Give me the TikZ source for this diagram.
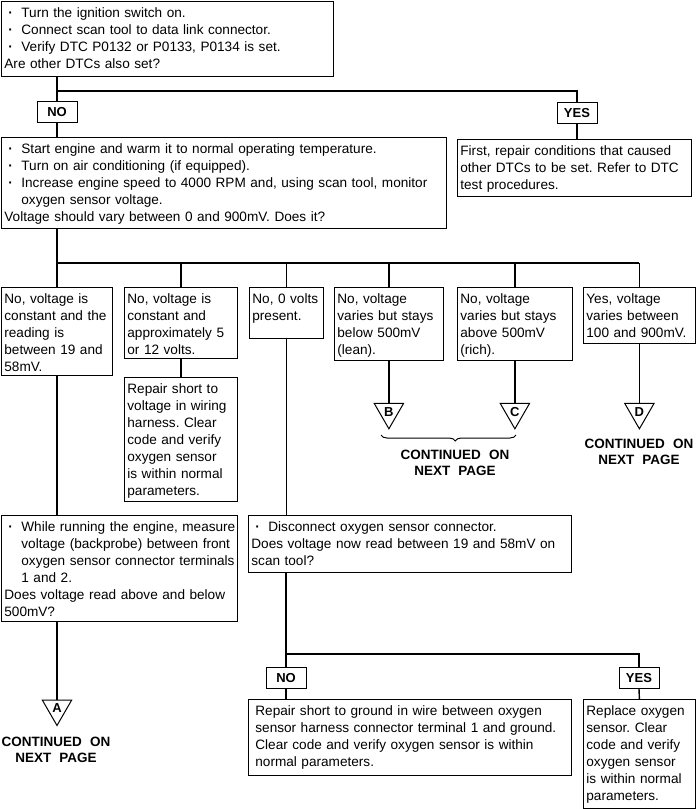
\documentclass[tikz,border=0pt]{standalone}
\usepackage{fontspec}
\setmainfont{Liberation Sans}
\usetikzlibrary{positioning, shapes.geometric, decorations.pathreplacing}

% Bullet and hanging indent for list lines
\newcommand{\bul}{\makebox[17pt][l]{\hspace{4pt}\textbf{·}}}
\newcommand{\ind}{\hspace*{17pt}}

\begin{document}
\frenchspacing
\begin{tikzpicture}[
        x=1pt, y=-1pt,
        % Style for text boxes and answer labels
        box/.style={draw, line width=0.8pt, anchor=north west, align=left, inner xsep=3pt, inner ysep=4pt, text height=12.5pt, font=\fontsize{13.6}{17}\selectfont},
        answer/.style={draw, line width=0.8pt, minimum width=40pt, minimum height=21pt, inner sep=0pt, font=\bfseries\fontsize{13}{13}\selectfont},
        % Style for off-page connectors
        offpage/.style={draw, line width=1pt, regular polygon, regular polygon sides=3, shape border rotate=180, minimum size=34pt, inner sep=0pt, font=\bfseries\fontsize{13}{13}\selectfont},
        continued/.style={align=center, font=\bfseries\fontsize{13.5}{16.5}\selectfont},
        line/.style={line width=1.4pt}
    ]
    \useasboundingbox (0, 0) rectangle (696, 809);

    % First check
    \node[box, text width=326pt, text depth=54.5pt] at (1, 1) (ignition) {\bul Turn the ignition switch on.\\\bul Connect scan tool to data link connector.\\\bul Verify DTC P0132 or P0133, P0134 is set.\\Are other DTCs also set?};
    \node[answer] at (57, 112) (no1) {NO};
    \node[answer] at (577, 113) (yes1) {YES};
    \node[box, text width=439pt, text depth=70.5pt] at (1, 137) (warmup) {\bul Start engine and warm it to normal operating temperature.\\\bul Turn on air conditioning (if equipped).\\\bul Increase engine speed to 4000 RPM and, using scan tool, monitor\\\ind oxygen sensor voltage.\\Voltage should vary between 0 and 900mV. Does it?};
    \node[box, text width=228pt, text depth=36.5pt] at (457, 139) (repairdtc) {First, repair conditions that caused\\other DTCs to be set. Refer to DTC\\test procedures.};

    % Voltage readings
    \node[box, text width=105pt, text depth=67.5pt] at (1, 287) (lowconst) {No, voltage is\\constant and the\\reading is\\between 19 and\\58mV.};
    \node[box, text width=107pt, text depth=50.5pt] at (124, 287) (highconst) {No, voltage is\\constant and\\approximately 5\\or 12 volts.};
    \node[box, text width=68pt, text depth=30.5pt] at (249, 287) (zerovolt) {No, 0 volts\\present.};
    \node[box, text width=103pt, text depth=52.5pt] at (334, 287) (lean) {No, voltage\\varies but stays\\below 500mV\\(lean).};
    \node[box, text width=109pt, text depth=52.5pt] at (457, 287) (rich) {No, voltage\\varies but stays\\above 500mV\\(rich).};
    \node[box, text width=106pt, text depth=35.5pt] at (583, 287) (normal) {Yes, voltage\\varies between\\100 and 900mV.};
    \node[box, text width=107pt, text depth=103.5pt] at (124, 377) (shortvolt) {Repair short to\\voltage in wiring\\harness. Clear\\code and verify\\oxygen sensor\\is within normal\\parameters.};

    % Off-page connectors
    \node[offpage, below=42pt of lean] (offB) {B};
    \node[offpage, below=42pt of rich] (offC) {C};
    \node[offpage, below=59pt of normal] (offD) {D};
    \node[offpage] at (57, 708.5) (offA) {A};
    \coordinate (braceL) at (381, 435);
    \coordinate (braceR) at (516, 435);
    \node[continued] at (455, 463) (contBC) {CONTINUED\hspace{0.6em}ON\\NEXT\hspace{0.6em}PAGE};
    \node[continued] at (639, 452) (contD) {CONTINUED\hspace{0.6em}ON\\NEXT\hspace{0.6em}PAGE};
    \node[continued] at (56, 750) (contA) {CONTINUED\hspace{0.6em}ON\\NEXT\hspace{0.6em}PAGE};

    % Further checks
    \node[box, text width=230pt, text depth=85.5pt] at (1, 515) (measure) {\bul\mbox{While running the engine, measure}\\\ind\mbox{voltage (backprobe) between front}\\\ind\mbox{oxygen sensor connector terminals}\\\ind 1 and 2.\\Does voltage read above and below\\500mV?};
    \node[box, text width=317pt, text depth=36.5pt] at (248, 515) (disconnect) {\bul Disconnect oxygen sensor connector.\\Does voltage now read between 19 and 58mV on\\scan tool?};
    \node[answer] at (286, 678) (no2) {NO};
    \node[answer] at (639, 678) (yes2) {YES};
    \node[box, inner xsep=7pt, text width=309pt, text depth=55.5pt] at (248, 699) (shortgnd) {Repair short to ground in wire between oxygen\\sensor harness connector terminal 1 and ground.\\Clear code and verify oxygen sensor is within\\normal parameters.};
    \node[box, text width=106pt, text depth=88.5pt] at (583, 699) (replace) {Replace oxygen\\sensor. Clear\\code and verify\\oxygen sensor\\is within normal\\parameters.};

    % Branch points
    \coordinate (split1) at (57, 91);
    \coordinate (split2) at (57, 263);
    \coordinate (split3) at (286, 654);

    % Drawing the connectors
    \draw[line] (ignition.south -| no1) -- (no1.north);
    \draw[line] (split1) -| (yes1.north);
    \draw[line] (no1.south) -- (warmup.north -| no1);
    \draw[line] (yes1.south) -- (repairdtc.north -| yes1);
    \draw[line] (warmup.south -| split2) -- (split2) -- (split2 -| normal.north);
    \foreach \reading in {lowconst, highconst, zerovolt, lean, rich, normal}
        \draw[line] (split2 -| \reading.north) -- (\reading.north);
    \draw[line] (highconst.south) -- (shortvolt.north);
    \draw[line] (lowconst.south) -- (measure.north -| lowconst.south);
    \draw[line] (measure.south -| offA) -- (offA.north);
    \draw[line] (lean.south) -- (offB.north);
    \draw[line] (rich.south) -- (offC.north);
    \draw[line] (normal.south) -- (offD.north);
    \draw[line, line width=1pt, decorate, decoration={brace, mirror, amplitude=6pt, aspect=0.55}] (braceL) -- (braceR);
    \draw[line] (zerovolt.south) -- (disconnect.north -| zerovolt.south);
    \draw[line] (disconnect.south -| split3) -- (split3) -| (yes2.north);
    \draw[line] (split3) -- (no2.north);
    \draw[line] (no2.south) -- (shortgnd.north -| no2);
    \draw[line] (yes2.south) -- (replace.north);
\end{tikzpicture}
\end{document}
